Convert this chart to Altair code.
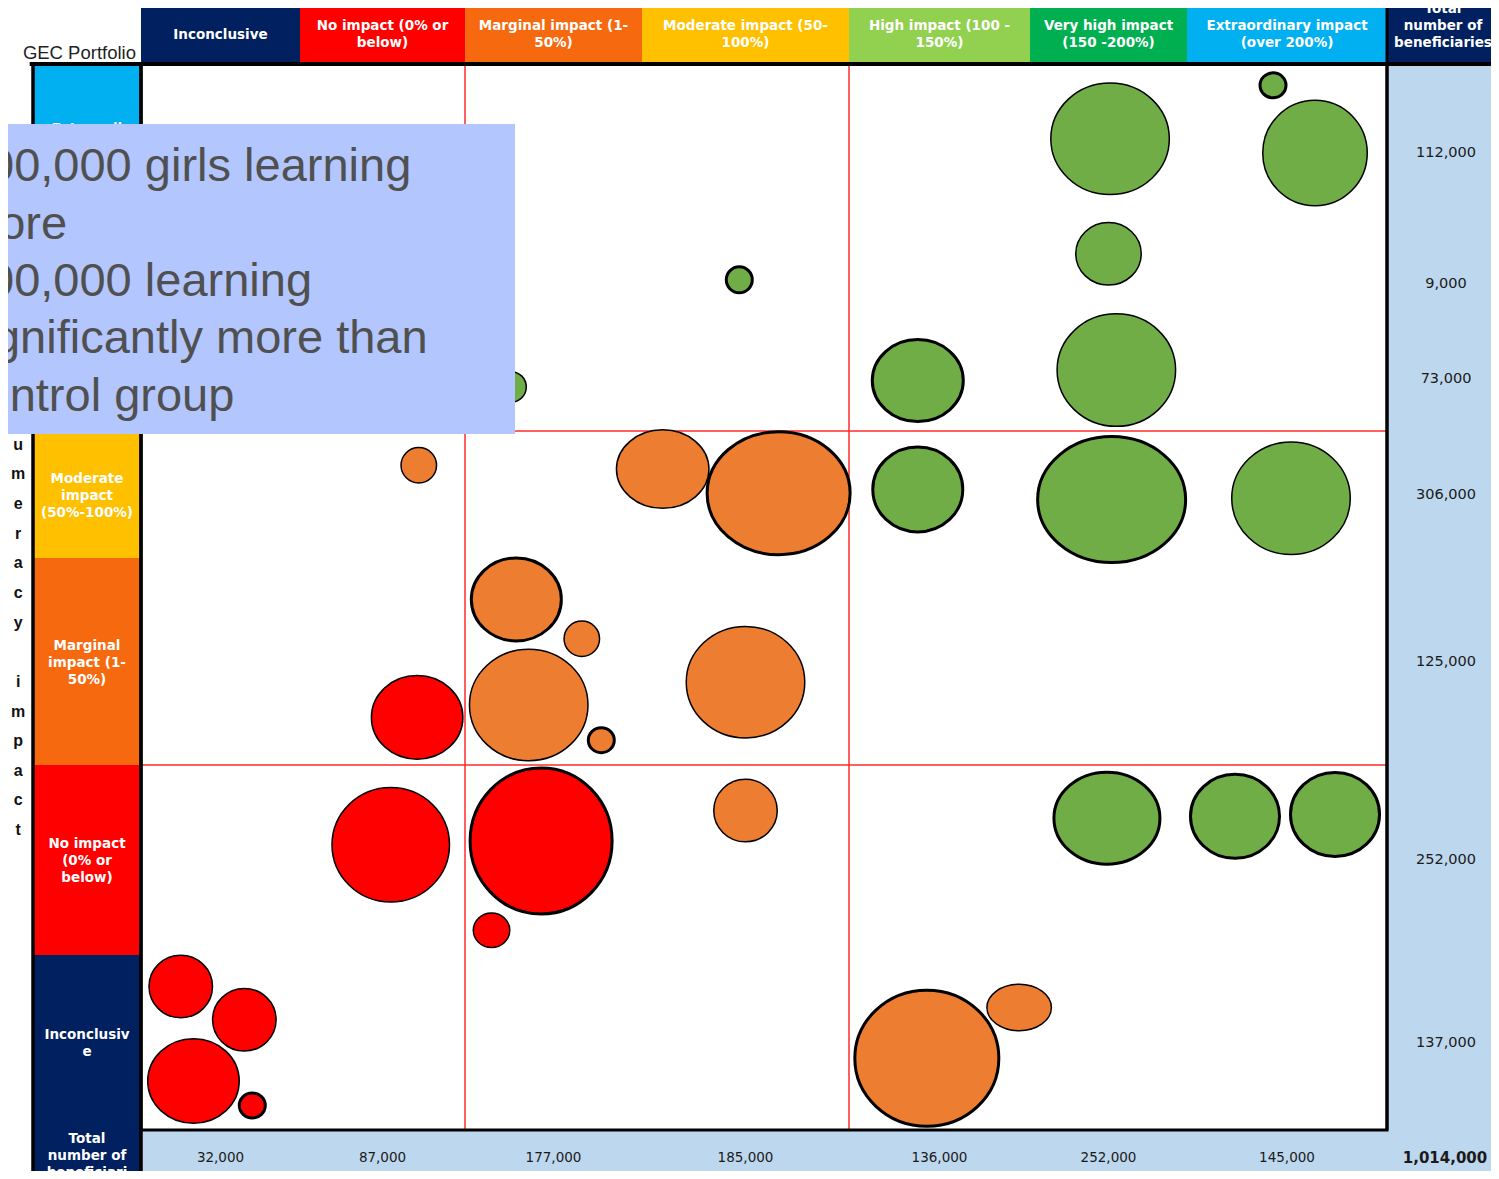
import altair as alt
import numpy as np
import pandas as pd

# ---------------- categories & labels ----------------
LEVELS = ["Inconclusive", "No impact", "Marginal impact", "Moderate impact",
          "High impact", "Very high impact", "Extraordinary impact"]
LEVEL_COLORS = ["#002060", "#FF0000", "#F6690E", "#FFC000",
                "#92D050", "#00B050", "#00B0F0"]
HEADER_LABELS = ["Inconclusive", "No impact (0% or\nbelow)", "Marginal impact  (1-\n50%)",
                 "Moderate impact (50-\n100%)", "High impact (100 -\n150%)",
                 "Very high impact\n(150 -200%)", "Extraordinary impact\n(over 200%)"]
ROW_LABELS = ["Inconclusiv\ne", "No impact\n(0% or\nbelow)", "Marginal\nimpact (1-\n50%)",
              "Moderate\nimpact\n(50%-100%)", "High\nimpact\n(100%-150%)",
              "Very high\nimpact\n(150%-200%)", "Extraordi\nnary\nimpact\n(over 200%)"]
TOTAL_LABEL_TOP = "Total\nnumber of\nbeneficiaries"
TOTAL_LABEL_LEFT = "Total\nnumber of\nbeneficiari"
COL_TOTALS = ["32,000", "87,000", "177,000", "185,000", "136,000", "252,000", "145,000"]
ROW_TOTALS = ["137,000", "252,000", "125,000", "306,000", "73,000", "9,000", "112,000"]
GRAND_TOTAL = "1,014,000"
Y_TITLE = "Numeracy impact"
CORNER_TITLE = "GEC Portfolio"
NOTE_LINES = ["00,000 girls learning", "more", "00,000 learning",
              "significantly more than", "control group"]
NOTE_KIND = ["num", "txt", "num", "txt", "txt"]

# ---------------- bubbles (column / row position in cell units) ----------------
bub_col = [0.25, 0.65, 0.33, 0.70, 1.55, 2.15, 2.43, 3.50, 5.49, 6.24, 6.74,
           4.94, 4.43, 1.72, 3.10, 3.66, 2.29, 2.66, 2.36, 2.77, 3.50, 1.71,
           4.38, 5.52, 6.52, 5.51, 6.43, 6.64, 5.50, 5.55, 4.38, 3.47, 2.26]
bub_row = [0.82, 0.63, 0.28, 0.14, 1.58, 1.13, 1.60, 1.76, 1.72, 1.73, 1.74,
           0.70, 0.41, 3.73, 3.70, 3.51, 2.80, 2.61, 2.29, 2.12, 2.40, 2.23,
           3.54, 3.46, 3.47, 6.58, 6.88, 6.50, 5.86, 4.58, 4.48, 5.55, 4.42]
bub_w = [65, 65, 93, 29, 119, 38, 145, 65, 109, 92, 92,
         66, 147, 37, 94, 146, 93, 37, 120, 29, 120, 93,
         93, 151, 120, 120, 29, 106, 67, 120, 94, 29, 32]
bub_h = [64, 64, 86, 28, 116, 36, 149, 64, 95, 87, 87,
         48, 139, 37, 80, 126, 86, 37, 113, 28, 113, 85,
         88, 129, 114, 113, 28, 107, 64, 114, 85, 29, 32]
bub_rag = ["R", "R", "R", "R", "R", "R", "R", "A", "G", "G", "G",
           "A", "A", "A", "A", "A", "A", "A", "A", "A", "A", "R",
           "G", "G", "G", "G", "G", "G", "G", "G", "G", "G", "G"]
bub_line = ["thin", "thin", "thin", "thick", "thin", "thin", "thick", "thin", "thick", "thick", "thick",
            "thin", "thick", "thin", "thin", "thick", "thick", "thin", "thin", "thick", "thin", "thin",
            "thick", "thick", "thin", "thin", "thick", "thin", "thin", "thin", "thick", "thick", "thin"]
RAG = ["R", "A", "G"]
RAG_COLORS = ["#FF0000", "#ED7D31", "#70AD47"]
LINES = ["thin", "thick"]
LINE_W = [1.5, 3]

# ---------------- layout: grid edges (page px) ----------------
COL_EDGES = [0, 33, 141, 300, 465, 642, 849, 1030, 1187, 1387, 1499]
ROW_EDGES = [1186, 1130, 955, 765, 558, 431, 326, 242, 64, 8]
XD = list(range(-2, 9))
YD = list(range(-1, 9))
XR = [e - 8 for e in COL_EDGES]
YR = [e - 8 for e in ROW_EDGES]
XS = alt.Scale(domain=XD, range=XR, zero=False, nice=False)
YS = alt.Scale(domain=YD, range=YR, zero=False, nice=False)


def y_px(u):
    return float(np.interp(u, YD, ROW_EDGES))


def y_unit(p):
    return float(np.interp(p, ROW_EDGES[::-1], YD[::-1]))


def line_rows(labels, xs, centers, lh):
    """split multi-line labels into one row per line, centred on the given page-y."""
    out = []
    for lab, x, c in zip(labels, xs, centers):
        parts = lab.split("\n")
        n = len(parts)
        for k, t in enumerate(parts):
            out.append({"t": t, "x0": x, "y0": y_unit(c - (n - 1) * lh / 2 + k * lh)})
    return pd.DataFrame(out)


NAVY = "#002060"
LIGHTBLUE = "#BDD7EE"


def enc(x="x0", y="y0", x2=None, y2=None):
    e = dict(x=alt.X(f"{x}:Q", scale=XS, axis=None),
             y=alt.Y(f"{y}:Q", scale=YS, axis=None))
    if x2:
        e["x2"] = alt.X2(x2)
    if y2:
        e["y2"] = alt.Y2(y2)
    return e


def base(df, **calc):
    return alt.Chart(df).transform_calculate(**calc) if calc else alt.Chart(df)


idx = list(range(7))
one = pd.DataFrame({"k": [0]})
header_df = pd.DataFrame({"i": idx, "label": HEADER_LABELS, "color": LEVEL_COLORS})
rows_df = pd.DataFrame({"i": idx, "label": ROW_LABELS, "color": LEVEL_COLORS})
coltot_df = pd.DataFrame({"i": idx, "label": COL_TOTALS})
rowtot_df = pd.DataFrame({"i": idx, "label": ROW_TOTALS})

sw = dict(zip(LINES, LINE_W))
bub = pd.DataFrame({"col": bub_col, "row": bub_row, "w": bub_w, "h": bub_h,
                    "rag": bub_rag, "line": bub_line})
d_w = bub["w"] - bub["line"].map(sw)
d_h = bub["h"] - bub["line"].map(sw)
bub["size"] = d_w ** 2
bub["shape"] = [f"M -1 0 A 1 {a:.3f} 0 1 1 1 0 A 1 {a:.3f} 0 1 1 -1 0 Z" for a in (d_h / d_w)]

# ---------------- background cells ----------------
bg_bottom = base(coltot_df, x0="datum.i", x1="datum.i+1", y0="-1", y1="0").mark_rect(
    fill=LIGHTBLUE).encode(**enc(x2="x1", y2="y1"))
bg_right = base(rowtot_df, x0="7", x1="8", y0="datum.i", y1="datum.i+1").mark_rect(
    fill=LIGHTBLUE).encode(**enc(x2="x1", y2="y1"))
bg_corner = base(one, x0="7", x1="8", y0="-1", y1="0").mark_rect(
    fill=LIGHTBLUE).encode(**enc(x2="x1", y2="y1"))
hdr_rect = base(header_df, x0="datum.i", x1="datum.i+1", y0="7", y1="8").mark_rect().encode(
    fill=alt.Fill("color:N", scale=None), **enc(x2="x1", y2="y1"))
row_rect = base(rows_df, x0="-1", x1="0", y0="datum.i", y1="datum.i+1").mark_rect().encode(
    fill=alt.Fill("color:N", scale=None), **enc(x2="x1", y2="y1"))
tot_hdr = base(one, x0="7", x1="8", y0="7", y1="8").mark_rect(fill=NAVY).encode(**enc(x2="x1", y2="y1"))
tot_left = base(one, x0="-1", x1="0", y0="-1", y1="0").mark_rect(fill=NAVY).encode(**enc(x2="x1", y2="y1"))

# ---------------- red quadrant lines ----------------
GRID_COLS = [2, 4]
GRID_ROWS = [2, 4]
vgrid = base(pd.DataFrame({"x0": GRID_COLS}), y0="0", y1="7").mark_rule(
    color="#FF2A2A", strokeWidth=1.5).encode(**enc(y2="y1"))
hgrid = base(pd.DataFrame({"y0": GRID_ROWS}), x0="0", x1="7").mark_rule(
    color="#FF2A2A", strokeWidth=1.5).encode(**enc(x2="x1"))

# ---------------- bubbles ----------------
bubbles = alt.Chart(bub).mark_point(filled=True, opacity=1, fillOpacity=1, strokeOpacity=1).encode(
    x=alt.X("col:Q", scale=XS, axis=None),
    y=alt.Y("row:Q", scale=YS, axis=None),
    size=alt.Size("size:Q", scale=None),
    shape=alt.Shape("shape:N", scale=None),
    fill=alt.Fill("rag:N", scale=alt.Scale(domain=RAG, range=RAG_COLORS), legend=None),
    stroke=alt.value("black"),
    strokeWidth=alt.StrokeWidth("line:N", scale=alt.Scale(domain=LINES, range=LINE_W), legend=None),
)

# ---------------- borders ----------------
plot_border = base(one, x0="0", x1="7", y0="0", y1="7").mark_rect(
    fillOpacity=0, stroke="black", strokeWidth=3).encode(**enc(x2="x1", y2="y1"))
left_border = base(one, x0="-1", x1="0", y0="-1", y1="7").mark_rect(
    fillOpacity=0, stroke="black", strokeWidth=3.5).encode(**enc(x2="x1", y2="y1"))
hdr_line = base(one, x0="-1.1", x1="8", y0="7").mark_rule(
    color="black", strokeWidth=4).encode(**enc(x2="x1"))
tot_sep = base(one, x0="7", y0="0", y1="8").mark_rule(
    color="black", strokeWidth=3).encode(**enc(y2="y1"))

# ---------------- texts ----------------
CELL_TXT = dict(align="center", baseline="middle", font="DejaVu Sans",
                fontWeight="bold", fontSize=13.5, color="white")
LH = 17
hdr_lines = line_rows(HEADER_LABELS, [i + 0.5 for i in idx],
                      [y_px(7.5) - 1.5] * 7, LH)
row_lines = line_rows(ROW_LABELS, [-0.5] * 7, [y_px(i + 0.5) + 1 for i in idx], LH)
tot_lines = line_rows([TOTAL_LABEL_TOP, TOTAL_LABEL_LEFT], [7.5, -0.5],
                      [y_px(7.5) - 10, y_px(-0.5) - 2.5], LH)
cell_text = alt.Chart(pd.concat([hdr_lines, row_lines, tot_lines], ignore_index=True)).mark_text(
    **CELL_TXT).encode(text="t:N", **enc())

NUM_TXT = dict(align="center", baseline="middle", font="DejaVu Sans", color="#1A1A1A")
coltot_text = base(coltot_df, x0="datum.i+0.5", y0="-0.5").mark_text(**NUM_TXT, fontSize=13.5).encode(
    text="label:N", **enc())
rowtot_text = base(rowtot_df, x0="7.5", y0="datum.i+0.5").mark_text(**NUM_TXT, fontSize=14.5, dx=3).encode(
    text="label:N", **enc())
grand_text = base(one, x0="7.5", y0="-0.5", t=f"'{GRAND_TOTAL}'").mark_text(
    **NUM_TXT, fontSize=15, fontWeight="bold", dx=2).encode(text="t:N", **enc())

ytitle_df = line_rows(["\n".join(list(Y_TITLE))], [-1.45], [y_px(2.688)], 29.64)
ytitle = alt.Chart(ytitle_df).mark_text(
    align="center", baseline="middle", font="Liberation Sans", fontWeight="bold",
    fontSize=16, color="#111111").encode(text="t:N", **enc())
corner = base(one, x0="0", y0="7", t=f"'{CORNER_TITLE}'").mark_text(
    align="right", baseline="alphabetic", font="Liberation Sans", fontSize=18.5, color="#1F1F1F",
    dx=-5, dy=-5).encode(text="t:N", **enc())

# ---------------- overlay call-out ----------------
BOX = dict(x0=-2, x1=2.2825, y0=3.976, y1=6.663)
overlay = base(one, x0=str(BOX["x0"]), x1=str(BOX["x1"]), y0=str(BOX["y0"]), y1=str(BOX["y1"])).mark_rect(
    fill="#B3C6FD").encode(**enc(x2="x1", y2="y1"))
box_center = (y_px(BOX["y0"]) + y_px(BOX["y1"])) / 2 + 3
note_df = line_rows(["\n".join(NOTE_LINES)], [BOX["x0"]], [box_center], 57.3)
note_df["kind"] = NOTE_KIND
NOTE = dict(align="left", baseline="middle", font="Liberation Sans", fontSize=47, color="#505050")
note_num = alt.Chart(note_df).transform_filter("datum.kind == 'num'").mark_text(
    **NOTE, dx=-12).encode(text="t:N", **enc())
note_txt = alt.Chart(note_df).transform_filter("datum.kind == 'txt'").mark_text(
    **NOTE, dx=-40).encode(text="t:N", **enc())

chart = alt.layer(
    bg_bottom, bg_right, bg_corner, hdr_rect, row_rect, tot_hdr, tot_left,
    vgrid, hgrid, bubbles,
    plot_border, left_border, hdr_line, tot_sep,
    cell_text, coltot_text, rowtot_text, grand_text, ytitle, corner,
    overlay, note_num, note_txt,
).properties(
    width=1483, height=1163,
    autosize=alt.AutoSizeParams(type="none"),
    padding=0,
    background="white",
).configure_view(stroke="transparent")

chart.save("out.html", embed_options={"renderer": "svg", "actions": False})
